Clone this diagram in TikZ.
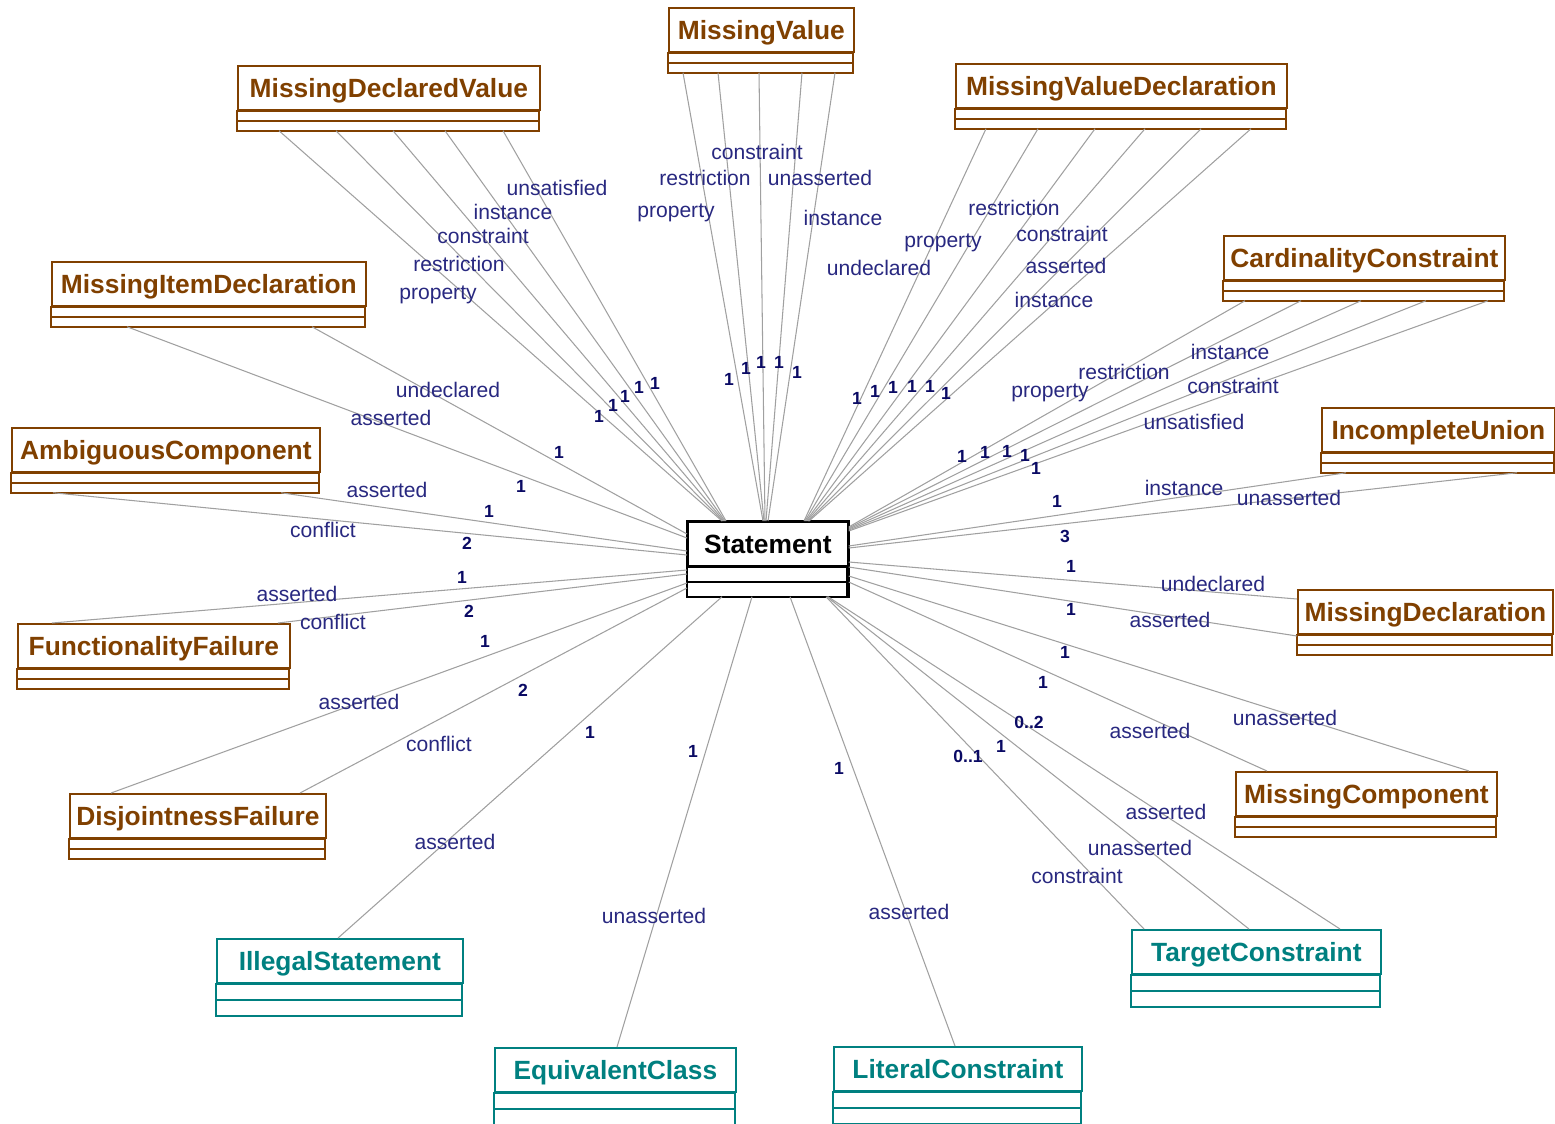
\documentclass[tikz,border=0pt]{standalone}
\usepackage{fontspec}
\setmainfont{Liberation Sans}
\usetikzlibrary{calc}

\definecolor{clsbrown}{RGB}{128,64,0}
\definecolor{clsteal}{RGB}{0,128,128}
\definecolor{rolenavy}{RGB}{40,40,128}
\definecolor{multnavy}{RGB}{10,10,100}
\definecolor{linegray}{RGB}{160,160,160}

\tikzset{
  clsname/.style={rectangle, anchor=north west, inner sep=0pt, minimum height=0.88cm,
    text height=10.7pt, text depth=0pt,
    line width=1pt, font=\fontsize{15}{18}\selectfont\bfseries},
  assoc/.style={draw=linegray, line width=0.6pt},
  role/.style={text=rolenavy, inner sep=0pt, font=\fontsize{12}{14}\selectfont},
  mult/.style={text=multnavy, inner sep=0pt, font=\fontsize{10}{12}\selectfont\bfseries}
}

% class box: name, x, y, width, colour, part height, text
\newcommand{\umlclass}[7]{
  \node[clsname, draw=#5, text=#5, minimum width={#4*0.02cm}] (#1) at (#2,#3) {#7};
  \draw[draw=#5, line width=1pt] (#1.south west) rectangle ++(#4,#6) ++(-#4,0) rectangle ++(#4,#6);
}

\begin{document}
\begin{tikzpicture}[x=0.02cm, y=-0.02cm]
    \useasboundingbox (0,0) rectangle (1555,1123);

    % classes
    \umlclass{mv}{668}{7}{185}{clsbrown}{10}{MissingValue}
    \umlclass{mdv}{237}{65}{302}{clsbrown}{10}{MissingDeclaredValue}
    \umlclass{mvd}{955}{63}{331}{clsbrown}{10}{MissingValueDeclaration}
    \umlclass{mid}{51}{261}{314}{clsbrown}{10}{MissingItemDeclaration}
    \umlclass{cc}{1223}{235}{281}{clsbrown}{10}{CardinalityConstraint}
    \umlclass{ac}{11}{427}{308}{clsbrown}{10}{AmbiguousComponent}
    \umlclass{iu}{1321}{407}{233}{clsbrown}{10}{IncompleteUnion}
    \umlclass{st}{687}{521}{160}{black}{15}{Statement}
    \draw[line width=1.3pt] (st.north west) rectangle ($(st.south east)+(0,30)$);
    \umlclass{ff}{17}{623}{272}{clsbrown}{10}{FunctionalityFailure}
    \umlclass{md}{1297}{589}{255}{clsbrown}{10}{MissingDeclaration}
    \umlclass{df}{69}{793}{256}{clsbrown}{10}{DisjointnessFailure}
    \umlclass{mc}{1235}{771}{261}{clsbrown}{10}{MissingComponent}
    \umlclass{is}{216}{938}{246}{clsteal}{16}{IllegalStatement}
    \umlclass{tc}{1131}{929}{249}{clsteal}{16}{TargetConstraint}
    \umlclass{ec}{494}{1047}{241}{clsteal}{16}{EquivalentClass}
    \umlclass{lc}{833}{1046}{248}{clsteal}{16}{LiteralConstraint}

    % MissingValue
    \draw[assoc] ($(mv.south west)+(15,20)$) -- ($(st.north west)+(76,0)$);
    \draw[assoc] ($(mv.south west)+(50,20)$) -- ($(st.north west)+(77,0)$);
    \draw[assoc] ($(mv.south west)+(91,20)$) -- ($(st.north west)+(78,0)$);
    \draw[assoc] ($(mv.south west)+(134,20)$) -- ($(st.north west)+(79,0)$);
    \draw[assoc] ($(mv.south west)+(167,20)$) -- ($(st.north west)+(81,0)$);
    % MissingDeclaredValue
    \draw[assoc] ($(mdv.south west)+(42,20)$) -- ($(st.north west)+(35,0)$);
    \draw[assoc] ($(mdv.south west)+(99,20)$) -- ($(st.north west)+(36,0)$);
    \draw[assoc] ($(mdv.south west)+(156,20)$) -- ($(st.north west)+(37,0)$);
    \draw[assoc] ($(mdv.south west)+(208,20)$) -- ($(st.north west)+(38,0)$);
    \draw[assoc] ($(mdv.south west)+(266,20)$) -- ($(st.north west)+(39,0)$);
    % MissingValueDeclaration
    \draw[assoc] ($(mvd.south west)+(31,20)$) -- ($(st.north west)+(117,0)$);
    \draw[assoc] ($(mvd.south west)+(83,20)$) -- ($(st.north west)+(118,0)$);
    \draw[assoc] ($(mvd.south west)+(140,20)$) -- ($(st.north west)+(119,0)$);
    \draw[assoc] ($(mvd.south west)+(190,20)$) -- ($(st.north west)+(120,0)$);
    \draw[assoc] ($(mvd.south west)+(246,20)$) -- ($(st.north west)+(121,0)$);
    \draw[assoc] ($(mvd.south west)+(296,20)$) -- ($(st.north west)+(122,0)$);
    % CardinalityConstraint
    \draw[assoc] ($(cc.south west)+(22,20)$) -- ($(st.north east)+(0,6)$);
    \draw[assoc] ($(cc.south west)+(78,20)$) -- ($(st.north east)+(0,7)$);
    \draw[assoc] ($(cc.south west)+(138,20)$) -- ($(st.north east)+(0,8)$);
    \draw[assoc] ($(cc.south west)+(203,20)$) -- ($(st.north east)+(0,9)$);
    \draw[assoc] ($(cc.south west)+(265,20)$) -- ($(st.north east)+(0,10)$);
    % MissingItemDeclaration
    \draw[assoc] ($(mid.south west)+(76,20)$) -- ($(st.north west)+(0,17)$);
    \draw[assoc] ($(mid.south west)+(261,20)$) -- ($(st.north west)+(0,13)$);
    % AmbiguousComponent
    \draw[assoc] ($(ac.south west)+(42,20)$) -- ($(st.north west)+(0,34)$);
    \draw[assoc] ($(ac.south west)+(270,20)$) -- ($(st.north west)+(0,30)$);
    % FunctionalityFailure
    \draw[assoc] ($(ff.north west)+(35,0)$) -- ($(st.north west)+(0,49)$);
    \draw[assoc] ($(ff.north west)+(261,0)$) -- ($(st.north west)+(0,53)$);
    % DisjointnessFailure
    \draw[assoc] ($(df.north west)+(42,0)$) -- ($(st.north west)+(0,62)$);
    \draw[assoc] ($(df.north west)+(231,0)$) -- ($(st.north west)+(0,67)$);
    % IllegalStatement, EquivalentClass, LiteralConstraint
    \draw[assoc] ($(is.north west)+(122,0)$) -- ($(st.south west)+(35,30)$);
    \draw[assoc] ($(ec.north west)+(123,0)$) -- ($(st.south west)+(65,30)$);
    \draw[assoc] ($(lc.north west)+(122,0)$) -- ($(st.south west)+(103,30)$);
    % TargetConstraint
    \draw[assoc] ($(tc.north west)+(13,0)$) -- ($(st.south west)+(139,30)$);
    \draw[assoc] ($(tc.north west)+(118,0)$) -- ($(st.south west)+(140,30)$);
    \draw[assoc] ($(tc.north west)+(209,0)$) -- ($(st.south west)+(141,30)$);
    % IncompleteUnion
    \draw[assoc] ($(iu.south west)+(25,20)$) -- ($(st.north east)+(0,25)$);
    \draw[assoc] ($(iu.south west)+(196,20)$) -- ($(st.north east)+(0,27)$);
    % MissingDeclaration
    \draw[assoc] ($(md.north west)+(0,10)$) -- ($(st.north east)+(0,41)$);
    \draw[assoc] ($(md.north west)+(0,47)$) -- ($(st.north east)+(0,46)$);
    % MissingComponent
    \draw[assoc] ($(mc.north west)+(234,0)$) -- ($(st.north east)+(0,55)$);
    \draw[assoc] ($(mc.north west)+(32,0)$) -- ($(st.north east)+(0,61)$);

    % role names
    \node[role] (mvProp) at (676,213) {property};
    \node[role] (mvRestr) at (705,178) {restriction};
    \node[role] (mvCons) at (757,152) {constraint};
    \node[role] (mvUnas) at (820,178) {unasserted};
    \node[role] (mvInst) at (843,218) {instance};

    \node[role] (mdvUnsat) at (557,188) {unsatisfied};
    \node[role] (mdvInst) at (513,212) {instance};
    \node[role] (mdvCons) at (483,236) {constraint};
    \node[role] (mdvRestr) at (459,264) {restriction};
    \node[role] (mdvProp) at (438,295) {property};

    \node[role] (mvdRestr) at (1014,208) {restriction};
    \node[role] (mvdProp) at (943,243) {property};
    \node[role] (mvdCons) at (1062,234) {constraint};
    \node[role] (mvdAss) at (1066,266) {asserted};
    \node[role] (mvdUndecl) at (879,268) {undeclared};
    \node[role] (mvdInst) at (1054,300) {instance};

    \node[role] (ccInst) at (1230,352) {instance};
    \node[role] (ccRestr) at (1124,372) {restriction};
    \node[role] (ccProp) at (1050,393) {property};
    \node[role] (ccCons) at (1233,386) {constraint};
    \node[role] (ccUnsat) at (1194,422) {unsatisfied};

    \node[role] (midUndecl) at (448,390) {undeclared};
    \node[role] (midAss) at (391,418) {asserted};
    \node[role] (acAss) at (387,490) {asserted};
    \node[role] (acConf) at (323,530) {conflict};
    \node[role] (ffAss) at (297,594) {asserted};
    \node[role] (ffConf) at (333,622) {conflict};
    \node[role] (dfAss) at (359,702) {asserted};
    \node[role] (dfConf) at (439,744) {conflict};
    \node[role] (isAss) at (455,842) {asserted};
    \node[role] (ecUnas) at (654,916) {unasserted};
    \node[role] (lcAss) at (909,912) {asserted};
    \node[role] (tcAss) at (1166,812) {asserted};
    \node[role] (tcUnas) at (1140,848) {unasserted};
    \node[role] (tcCons) at (1077,876) {constraint};
    \node[role] (mcAss) at (1150,731) {asserted};
    \node[role] (mcUnas) at (1285,718) {unasserted};
    \node[role] (mdUndecl) at (1213,584) {undeclared};
    \node[role] (mdAss) at (1170,620) {asserted};
    \node[role] (iuInst) at (1184,488) {instance};
    \node[role] (iuUnas) at (1289,498) {unasserted};

    % multiplicities
    \node[mult] (mdvM1) at (599,416) {1};
    \node[mult] (mdvM2) at (613,405) {1};
    \node[mult] (mdvM3) at (625,396) {1};
    \node[mult] (mdvM4) at (639,387) {1};
    \node[mult] (mdvM5) at (655,383) {1};
    \node[mult] (mvM1) at (729,379) {1};
    \node[mult] (mvM2) at (746,368) {1};
    \node[mult] (mvM3) at (761,362) {1};
    \node[mult] (mvM4) at (779,362) {1};
    \node[mult] (mvM5) at (797,372) {1};
    \node[mult] (mvdM1) at (857,398) {1};
    \node[mult] (mvdM2) at (875,391) {1};
    \node[mult] (mvdM3) at (893,387) {1};
    \node[mult] (mvdM4) at (912,386) {1};
    \node[mult] (mvdM5) at (930,386) {1};
    \node[mult] (mvdM6) at (946,393) {1};
    \node[mult] (ccM1) at (962,456) {1};
    \node[mult] (ccM2) at (985,452) {1};
    \node[mult] (ccM3) at (1007,451) {1};
    \node[mult] (ccM4) at (1025,455) {1};
    \node[mult] (ccM5) at (1036,468) {1};
    \node[mult] (midM1) at (559,452) {1};
    \node[mult] (midM2) at (521,486) {1};
    \node[mult] (acM1) at (489,511) {1};
    \node[mult] (acM2) at (467,543) {2};
    \node[mult] (ffM1) at (462,577) {1};
    \node[mult] (ffM2) at (469,611) {2};
    \node[mult] (dfM1) at (485,641) {1};
    \node[mult] (dfM2) at (523,690) {2};
    \node[mult] (isM) at (590,732) {1};
    \node[mult] (ecM) at (693,751) {1};
    \node[mult] (lcM) at (839,768) {1};
    \node[mult] (tcM1) at (1029,722) {0..2};
    \node[mult] (tcM2) at (1001,746) {1};
    \node[mult] (tcM3) at (968,756) {0..1};
    \node[mult] (mcM1) at (1065,652) {1};
    \node[mult] (mcM2) at (1043,682) {1};
    \node[mult] (mdM1) at (1071,566) {1};
    \node[mult] (mdM2) at (1071,609) {1};
    \node[mult] (iuM1) at (1057,501) {1};
    \node[mult] (iuM2) at (1065,536) {3};
\end{tikzpicture}
\end{document}
